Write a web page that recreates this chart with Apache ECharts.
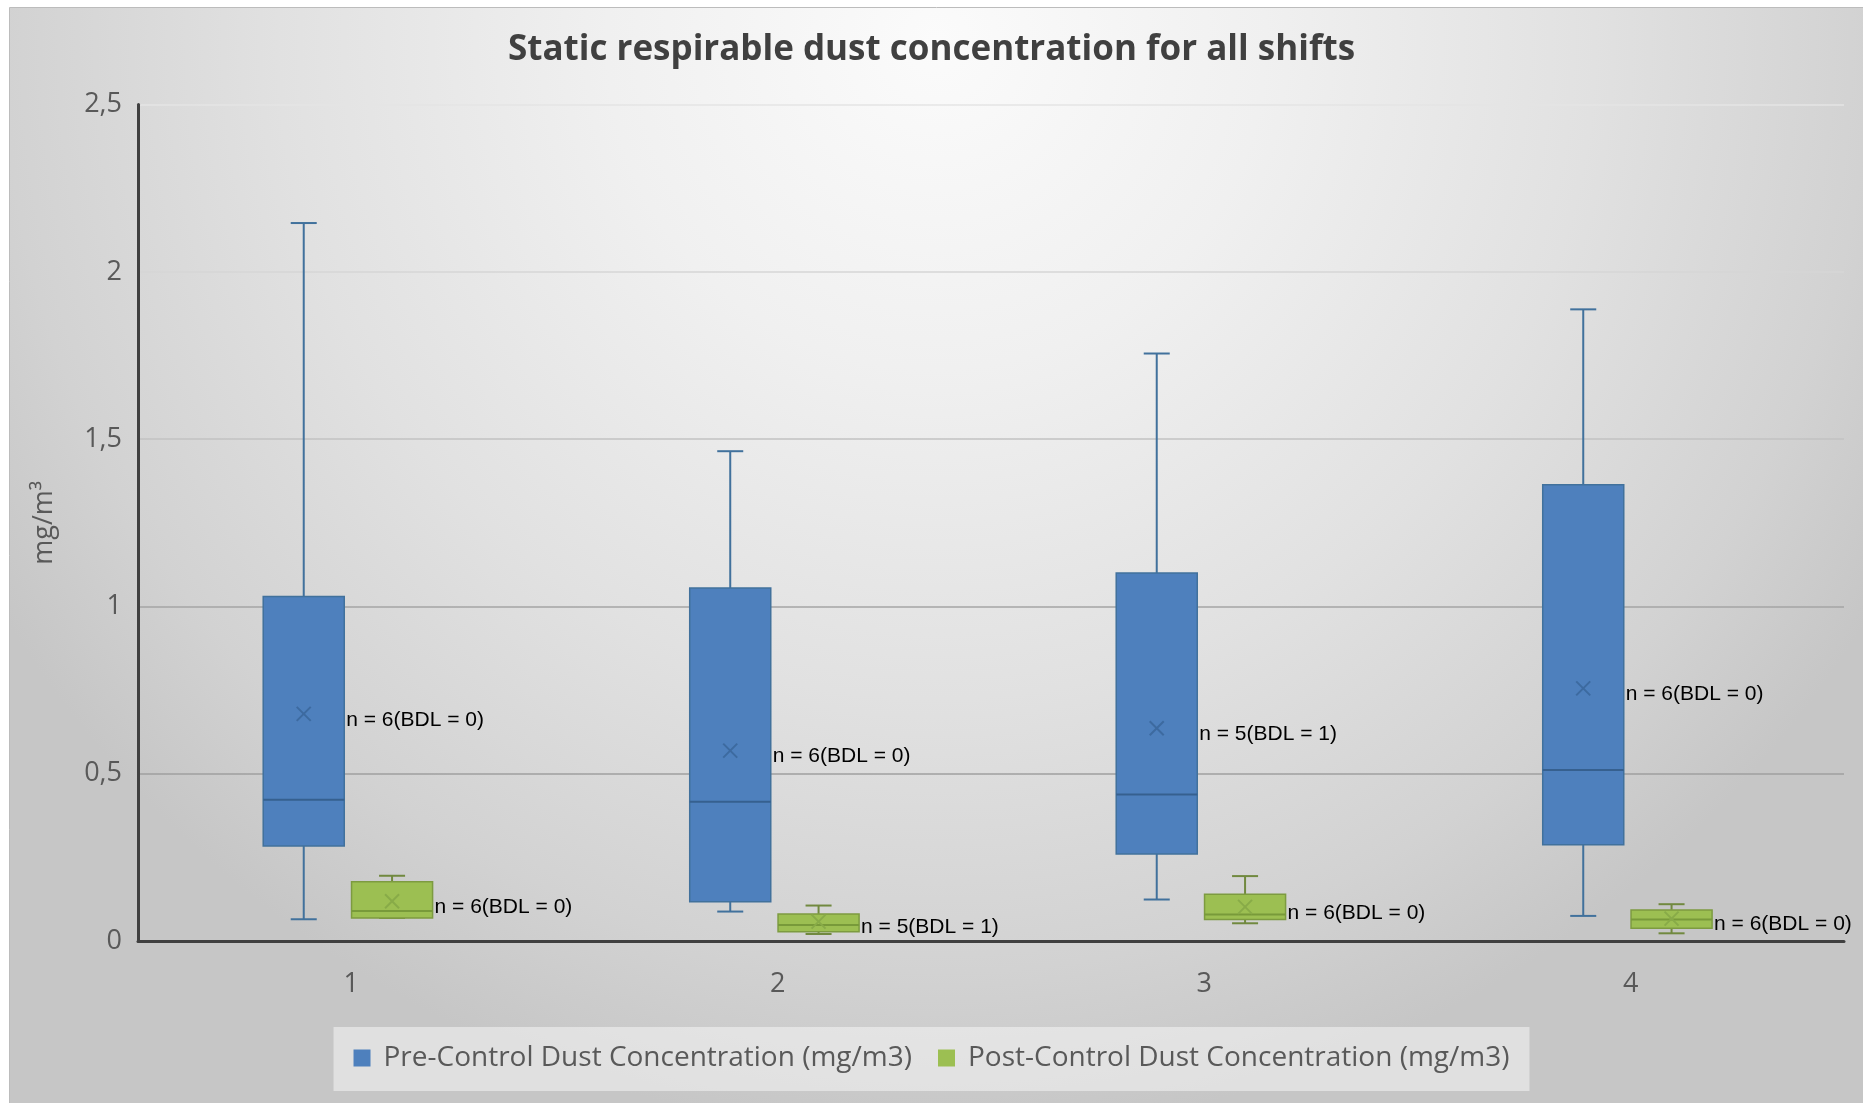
<!DOCTYPE html>
<html>
<head>
<meta charset="utf-8">
<title>Static respirable dust concentration for all shifts</title>
<script src="https://cdn.jsdelivr.net/npm/echarts@6/dist/echarts.min.js"></script>
<style>
  html, body { margin: 0; padding: 0; background: #ffffff; }
  #chart { width: 1863px; height: 1103px; }
</style>
</head>
<body>
<div id="chart"></div>
<script>
// Shifts on the category axis
const shifts = ['1', '2', '3', '4'];
const yTicks = [0, 0.5, 1, 1.5, 2, 2.5];

// Pre-control five-number summaries and means (mg/m3)
const preMin    = [0.065, 0.088, 0.124, 0.075];
const preQ1     = [0.284, 0.117, 0.260, 0.288];
const preMedian = [0.422, 0.416, 0.438, 0.511];
const preQ3     = [1.030, 1.055, 1.100, 1.364];
const preMax    = [2.146, 1.464, 1.756, 1.888];
const preMean   = [0.679, 0.569, 0.636, 0.755];
const preNotes  = ['n = 6(BDL = 0)', 'n = 6(BDL = 0)', 'n = 5(BDL = 1)', 'n = 6(BDL = 0)'];

// Post-control five-number summaries and means (mg/m3)
const postMin    = [0.069, 0.021, 0.053, 0.023];
const postQ1     = [0.069, 0.028, 0.064, 0.038];
const postMedian = [0.090, 0.048, 0.079, 0.064];
const postQ3     = [0.177, 0.081, 0.140, 0.093];
const postMax    = [0.195, 0.106, 0.194, 0.110];
const postMean   = [0.119, 0.058, 0.102, 0.067];
const postNotes  = ['n = 6(BDL = 0)', 'n = 5(BDL = 1)', 'n = 6(BDL = 0)', 'n = 6(BDL = 0)'];

function rows(mins, q1s, meds, q3s, maxs, means) {
  return shifts.map((_, i) => [i, mins[i], q1s[i], meds[i], q3s[i], maxs[i], means[i]]);
}

// Builds a box-and-whisker renderer for one group (offset within the category band)
function boxRenderer(look, notes) {
  return function (params, api) {
    const cat = api.value(0);
    const band = api.size([1, 0])[0];
    const base = api.coord([cat, 0]);
    const cx = base[0] + band * look.offset;
    const y = (v) => api.coord([cat, v])[1];
    const yMin = y(api.value(1)), yQ1 = y(api.value(2)), yMed = y(api.value(3));
    const yQ3 = y(api.value(4)), yMax = y(api.value(5)), yMean = y(api.value(6));
    const half = band * look.boxFrac / 2;
    const cap = band * look.capFrac / 2;
    const m = 7;
    const wStyle = { stroke: look.whisker, lineWidth: 2 };
    return {
      type: 'group',
      children: [
        { type: 'line', shape: { x1: cx, y1: yQ3, x2: cx, y2: yMax }, style: wStyle },
        { type: 'line', shape: { x1: cx, y1: yQ1, x2: cx, y2: yMin }, style: wStyle },
        { type: 'line', shape: { x1: cx - cap, y1: yMax, x2: cx + cap, y2: yMax }, style: wStyle },
        { type: 'line', shape: { x1: cx - cap, y1: yMin, x2: cx + cap, y2: yMin }, style: wStyle },
        { type: 'rect', shape: { x: cx - half, y: yQ3, width: half * 2, height: yQ1 - yQ3 },
          style: { fill: look.fill, stroke: look.border, lineWidth: 1.5 } },
        { type: 'line', shape: { x1: cx - half, y1: yMed, x2: cx + half, y2: yMed },
          style: { stroke: look.median, lineWidth: 2 } },
        { type: 'line', shape: { x1: cx - m, y1: yMean - m, x2: cx + m, y2: yMean + m },
          style: { stroke: look.cross, lineWidth: 2 } },
        { type: 'line', shape: { x1: cx - m, y1: yMean + m, x2: cx + m, y2: yMean - m },
          style: { stroke: look.cross, lineWidth: 2 } },
        { type: 'text', x: cx + half + 2, y: yMean + 6,
          style: { text: notes[params.dataIndex], fill: '#000000', fontSize: 21,
                   fontFamily: '"Liberation Sans", Arial, sans-serif',
                   align: 'left', verticalAlign: 'middle' } }
      ]
    };
  };
}

const preLook = { offset: -0.1114, boxFrac: 0.19, capFrac: 0.061,
  fill: '#4e80bd', border: '#41719c', whisker: '#41719c', median: '#36608f', cross: '#3d6aa0' };
const postLook = { offset: 0.0957, boxFrac: 0.19, capFrac: 0.061,
  fill: '#9cbf52', border: '#7d9b40', whisker: '#71893f', median: '#789a3a', cross: '#88ab48' };

const chart = echarts.init(document.getElementById('chart'), null, { renderer: 'canvas' });

chart.setOption({
  backgroundColor: '#ffffff',
  animation: false,
  graphic: [{
    type: 'rect',
    left: 9, top: 7, z: -10,
    shape: { width: 1854, height: 1096 },
    style: {
      stroke: '#bcbcbc', lineWidth: 1,
      fill: new echarts.graphic.RadialGradient(0.5, 0.03, 1.0, [
        { offset: 0, color: '#fbfbfb' },
        { offset: 0.3, color: '#f0f0f0' },
        { offset: 0.6, color: '#e1e1e1' },
        { offset: 0.85, color: '#d2d2d2' },
        { offset: 1, color: '#c6c6c6' }
      ])
    }
  }],
  title: {
    text: 'Static respirable dust concentration for all shifts',
    left: 'center', top: 28,
    textStyle: { fontFamily: '"Open Sans", sans-serif',
                 fontWeight: 'bold', fontSize: 35, color: '#404040' }
  },
  legend: {
    left: 'center', top: 1027,
    padding: [17, 20, 19, 20],
    backgroundColor: 'rgba(255,255,255,0.45)',
    itemWidth: 17, itemHeight: 17, itemGap: 26,
    icon: 'rect',
    textStyle: { fontFamily: '"Open Sans", sans-serif', fontSize: 28, color: '#595959',
                 padding: [0, 0, 0, 8] },
    data: ['Pre-Control Dust Concentration (mg/m3)', 'Post-Control Dust Concentration (mg/m3)']
  },
  grid: { left: 138, right: 19, top: 104.6, bottom: 162, containLabel: false },
  xAxis: {
    type: 'category', data: shifts, boundaryGap: true,
    axisTick: { show: false },
    axisLine: { show: true, lineStyle: { color: '#404040', width: 3 } },
    axisLabel: { margin: 30, fontFamily: '"Open Sans", sans-serif', fontSize: 27, color: '#595959' },
    splitLine: { show: false }
  },
  yAxis: {
    type: 'value', min: yTicks[0], max: yTicks[yTicks.length - 1], interval: 0.5,
    name: 'mg/m³', nameLocation: 'middle', nameGap: 80,
    nameTextStyle: { fontFamily: '"Open Sans", sans-serif', fontSize: 27, color: '#595959' },
    axisLine: { show: true, lineStyle: { color: '#404040', width: 3 } },
    axisTick: { show: false },
    axisLabel: { margin: 16, fontFamily: '"Open Sans", sans-serif', fontSize: 27, color: '#595959',
                 formatter: (v) => String(v).replace('.', ',') },
    splitLine: { show: true, lineStyle: { width: 1.5,
                 color: ['#9a9a9a', '#9f9f9f', '#a4a4a4', '#c2c2c2', '#d6d6d6', '#e4e4e4'] } }
  },
  series: [
    {
      name: 'Pre-Control Dust Concentration (mg/m3)',
      type: 'custom',
      itemStyle: { color: preLook.fill },
      renderItem: boxRenderer(preLook, preNotes),
      encode: { x: 0, y: [1, 2, 3, 4, 5, 6] },
      clip: false,
      data: rows(preMin, preQ1, preMedian, preQ3, preMax, preMean)
    },
    {
      name: 'Post-Control Dust Concentration (mg/m3)',
      type: 'custom',
      itemStyle: { color: postLook.fill },
      renderItem: boxRenderer(postLook, postNotes),
      encode: { x: 0, y: [1, 2, 3, 4, 5, 6] },
      clip: false,
      data: rows(postMin, postQ1, postMedian, postQ3, postMax, postMean)
    }
  ]
});
</script>
</body>
</html>
